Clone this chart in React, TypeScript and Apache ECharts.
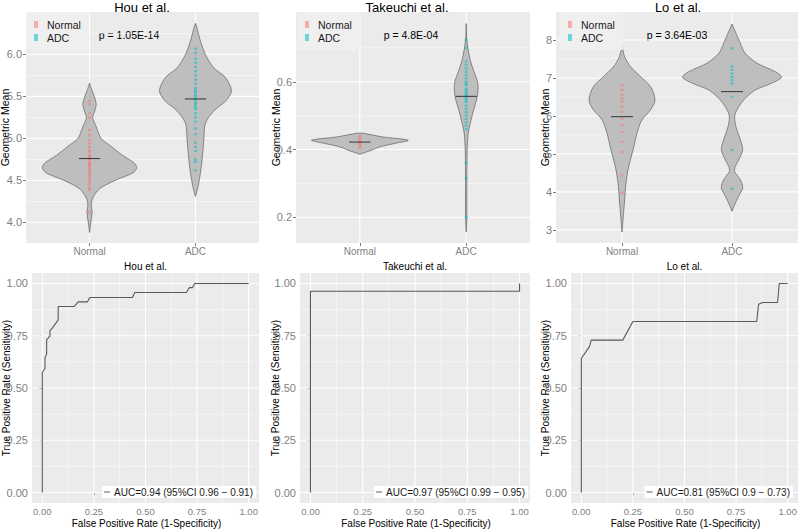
import React, { useEffect, useRef } from 'react';
import * as echarts from 'echarts';

const FONT = '"Liberation Sans", Arial, Helvetica, sans-serif';

// ---------- data ----------
const violinCategories = ['Normal', 'ADC'];
const studies = ['Hou et al.', 'Takeuchi et al.', 'Lo et al.'];
const pValues = ['p = 1.05E-14', 'p = 4.8E-04', 'p = 3.64E-03'];

// violin outlines: [value, half-width in category units]
const houNormalViolin = [[3.88, 0], [4.0, 0.012], [4.12, 0.025], [4.2, 0.016], [4.29, 0.03], [4.4, 0.094], [4.5, 0.24], [4.59, 0.41], [4.65, 0.445], [4.71, 0.42], [4.8, 0.31], [4.91, 0.2], [5.0, 0.11], [5.14, 0.063], [5.25, 0.03], [5.33, 0.05], [5.41, 0.063], [5.5, 0.045], [5.58, 0.02], [5.66, 0]];
const houAdcViolin = [[4.31, 0], [4.43, 0.025], [4.59, 0.047], [4.75, 0.063], [4.98, 0.079], [5.18, 0.094], [5.33, 0.176], [5.45, 0.29], [5.57, 0.34], [5.73, 0.28], [5.84, 0.173], [6.0, 0.094], [6.16, 0.047], [6.31, 0.016], [6.37, 0]];
const takeuchiNormalViolin = [[0.386, 0], [0.398, 0.11], [0.408, 0.19], [0.418, 0.33], [0.4275, 0.455], [0.437, 0.22], [0.447, 0.05], [0.449, 0]];
const takeuchiAdcViolin = [[0.156, 0], [0.202, 0.006], [0.3, 0.006], [0.398, 0.009], [0.448, 0.019], [0.477, 0.038], [0.516, 0.069], [0.556, 0.104], [0.595, 0.11], [0.634, 0.069], [0.664, 0.038], [0.723, 0.006], [0.772, 0]];
const loNormalViolin = [[2.94, 0], [3.35, 0.012], [3.79, 0.024], [4.23, 0.036], [4.67, 0.061], [5.1, 0.1], [5.54, 0.136], [5.89, 0.18], [6.16, 0.26], [6.42, 0.3], [6.77, 0.26], [7.04, 0.167], [7.3, 0.076], [7.56, 0.024], [7.84, 0]];
const loAdcViolin = [[3.49, 0], [3.66, 0.024], [3.89, 0.06], [4.1, 0.097], [4.32, 0.076], [4.54, 0.024], [4.67, 0.03], [4.84, 0.06], [5.11, 0.097], [5.37, 0.076], [5.72, 0.036], [5.98, 0.024], [6.16, 0.045], [6.42, 0.106], [6.68, 0.21], [6.86, 0.36], [7.02, 0.45], [7.17, 0.39], [7.39, 0.227], [7.65, 0.12], [7.91, 0.076], [8.18, 0.036], [8.42, 0]];

// sample points
const houNormalPoints = [5.45, 5.41, 5.3, 5.25, 5.1, 5.04, 4.98, 4.94, 4.9, 4.86, 4.84, 4.8, 4.78, 4.76, 4.75, 4.72, 4.7, 4.69, 4.67, 4.65, 4.63, 4.61, 4.59, 4.57, 4.54, 4.51, 4.48, 4.45, 4.41, 4.39, 4.12];
const houAdcPoints = [6.07, 6.02, 5.95, 5.9, 5.85, 5.8, 5.75, 5.7, 5.65, 5.6, 5.57, 5.55, 5.52, 5.5, 5.47, 5.45, 5.42, 5.4, 5.37, 5.35, 5.3, 5.25, 5.2, 5.12, 5.05, 4.95, 4.9, 4.85, 4.75, 4.72, 4.62];
const takeuchiNormalPoints = [0.44, 0.435, 0.43, 0.425, 0.42, 0.415, 0.41, 0.405];
const takeuchiAdcPoints = [0.723, 0.7, 0.66, 0.65, 0.64, 0.63, 0.62, 0.61, 0.6, 0.595, 0.59, 0.58, 0.575, 0.57, 0.565, 0.56, 0.555, 0.55, 0.545, 0.54, 0.53, 0.52, 0.51, 0.5, 0.49, 0.48, 0.47, 0.46, 0.36, 0.315, 0.2];
const loNormalPoints = [6.81, 6.68, 6.55, 6.46, 6.37, 6.24, 6.11, 5.93, 5.76, 5.58, 5.32, 5.05, 4.43, 3.97];
const loAdcPoints = [7.78, 7.3, 7.21, 7.12, 7.03, 6.94, 6.86, 6.5, 5.1, 4.08];

// medians [Normal, ADC]
const houMedians = [4.76, 5.47];
const takeuchiMedians = [0.422, 0.557];
const loMedians = [5.98, 6.64];

const violinYRanges = [[3.755, 6.505], [0.124, 0.806], [2.654, 8.737]];
const violinYTicks = [[4, 4.5, 5, 5.5, 6], [0.2, 0.4, 0.6], [3, 4, 5, 6, 7, 8]];
const violinYMinor = [[4.25, 4.75, 5.25, 5.75, 6.25], [0.3, 0.5, 0.7], [3.5, 4.5, 5.5, 6.5, 7.5]];
const violinYDecimals = [1, 1, 0];

// ROC curves: [FPR, TPR]
const houRoc = [[0, 0], [0, 0.574], [0.013, 0.593], [0.013, 0.646], [0.021, 0.662], [0.021, 0.73], [0.037, 0.749], [0.037, 0.773], [0.05, 0.789], [0.077, 0.826], [0.077, 0.89], [0.155, 0.89], [0.174, 0.912], [0.219, 0.912], [0.23, 0.933], [0.437, 0.933], [0.448, 0.957], [0.698, 0.957], [0.713, 0.98], [0.728, 0.98], [0.738, 1.0], [1, 1]];
const takeuchiRoc = [[0, 0], [0, 0.963], [1, 0.963], [1, 1]];
const loRoc = [[0, 0], [0, 0.641], [0.04, 0.699], [0.048, 0.729], [0.201, 0.729], [0.25, 0.818], [0.85, 0.818], [0.859, 0.901], [0.879, 0.909], [0.951, 0.909], [0.959, 1.0], [1, 1]];
const aucLabels = ['AUC=0.94 (95%CI 0.96 \u2212 0.91)', 'AUC=0.97 (95%CI 0.99 \u2212 0.95)', 'AUC=0.81 (95%CI 0.9 \u2212 0.73)'];
const rocTicks = [0, 0.25, 0.5, 0.75, 1];
const rocMinor = [0.125, 0.375, 0.625, 0.875];

// ---------- layout ----------
const violinGrids = [
  { left: 26, top: 12, width: 233, height: 231 },
  { left: 296, top: 12, width: 234, height: 231 },
  { left: 556, top: 12, width: 242, height: 231 },
];
const rocGrids = [
  { left: 32, top: 273, width: 227, height: 230 },
  { left: 300, top: 273, width: 230, height: 230 },
  { left: 571, top: 273, width: 227, height: 230 },
];
const violinLegendLeft = [26, 297, 560];
const pTextX = [129, 411, 677];
const topTitleX = [142, 407, 678];
const violinYNameX = [5, 276, 545];
const rocYNameX = [6, 275, 545];
const rocLegendRight = [544, 272, 7];

const NORMAL_COLOR = '#F8766D';
const ADC_COLOR = '#00BFC4';

function gridLineRender(params: any, api: any) {
  const cs = params.coordSys;
  const orient = api.value(0);
  const val = api.value(1);
  const major = api.value(2);
  let shape;
  if (orient === 0) {
    const y = api.coord([0.5, val])[1];
    shape = { x1: cs.x, y1: y, x2: cs.x + cs.width, y2: y };
  } else {
    const x = api.coord([val, 0.5])[0];
    shape = { x1: x, y1: cs.y, x2: x, y2: cs.y + cs.height };
  }
  return { type: 'line', shape, silent: true, style: { stroke: '#FFFFFF', lineWidth: major ? 1.1 : 0.5 } };
}

function violinSeries(gi: number, catX: number, profile: number[][]) {
  return {
    type: 'custom',
    xAxisIndex: gi,
    yAxisIndex: gi,
    z: 2,
    silent: true,
    data: [[catX, profile[0][0]]],
    renderItem: (params: any, api: any) => {
      const right = profile.map(([v, hw]) => api.coord([catX + hw, v]));
      const left = profile.slice().reverse().map(([v, hw]) => api.coord([catX - hw, v]));
      return {
        type: 'polygon',
        shape: { points: right.concat(left), smooth: 0.3 },
        style: { fill: '#BEBEBE', stroke: '#4D4D4D', lineWidth: 0.6 },
      };
    },
  };
}

function buildOption() {
  const grid: any[] = [];
  const xAxis: any[] = [];
  const yAxis: any[] = [];
  const series: any[] = [];
  const legend: any[] = [];
  const graphic: any[] = [];

  const tickStyle = { lineStyle: { color: '#555', width: 0.8 }, length: 3 };

  const violins = [
    [houNormalViolin, houAdcViolin],
    [takeuchiNormalViolin, takeuchiAdcViolin],
    [loNormalViolin, loAdcViolin],
  ];
  const points = [
    [houNormalPoints, houAdcPoints],
    [takeuchiNormalPoints, takeuchiAdcPoints],
    [loNormalPoints, loAdcPoints],
  ];
  const medians = [houMedians, takeuchiMedians, loMedians];

  violinGrids.forEach((g, i) => {
    grid.push({ ...g, show: true, backgroundColor: '#EBEBEB', borderWidth: 0 });
    xAxis.push({
      gridIndex: i, type: 'value', min: 0.4, max: 2.6,
      axisLine: { show: false }, splitLine: { show: false },
      axisTick: { show: true, customValues: [1, 2], ...tickStyle },
      axisLabel: {
        customValues: [1, 2], formatter: (v: number) => violinCategories[Math.round(v) - 1],
        fontSize: 10, color: '#7F7F7F', fontFamily: FONT, margin: 3,
      },
    });
    const dec = violinYDecimals[i];
    yAxis.push({
      gridIndex: i, type: 'value', min: violinYRanges[i][0], max: violinYRanges[i][1],
      axisLine: { show: false }, splitLine: { show: false },
      axisTick: { show: true, customValues: violinYTicks[i], ...tickStyle },
      axisLabel: {
        customValues: violinYTicks[i], formatter: (v: number) => v.toFixed(dec),
        fontSize: 11, color: '#7F7F7F', fontFamily: FONT, margin: 4,
      },
    });
    const lines: number[][] = [];
    violinYTicks[i].forEach((v) => lines.push([0, v, 1]));
    violinYMinor[i].forEach((v) => lines.push([0, v, 0]));
    [1, 2].forEach((v) => lines.push([1, v, 1]));
    series.push({ type: 'custom', xAxisIndex: i, yAxisIndex: i, z: 1, silent: true, data: lines, renderItem: gridLineRender });

    [0, 1].forEach((c) => {
      const catX = c + 1;
      series.push(violinSeries(i, catX, violins[i][c]));
      series.push({
        type: 'scatter', name: violinCategories[c], xAxisIndex: i, yAxisIndex: i, z: 3, silent: true,
        symbol: 'rect', symbolSize: [3, 2.2],
        itemStyle: { color: c === 0 ? NORMAL_COLOR : ADC_COLOR, opacity: 0.55 },
        data: points[i][c].map((v) => [catX, v]),
      });
      series.push({
        type: 'line', xAxisIndex: i, yAxisIndex: i, z: 4, silent: true, symbol: 'none',
        lineStyle: { color: '#333333', width: 1 },
        data: [[catX - 0.1, medians[i][c]], [catX + 0.1, medians[i][c]]],
      });
    });

    legend.push({
      data: [{ name: 'Normal', icon: 'rect' }, { name: 'ADC', icon: 'rect' }],
      orient: 'vertical', left: violinLegendLeft[i], top: 12,
      itemWidth: 4, itemHeight: 7, itemGap: 2,
      padding: [7, 8, 7, 8], backgroundColor: '#EFEFEF',
      selectedMode: false,
      textStyle: { fontSize: 10.5, fontFamily: FONT, color: '#1A1A1A', padding: [0, 0, 0, 4] },
    });

    graphic.push({ type: 'text', x: topTitleX[i], y: 7, silent: true, style: { text: studies[i], fontSize: 13, fontFamily: FONT, fill: '#000', align: 'center', verticalAlign: 'middle' } });
    graphic.push({ type: 'text', x: pTextX[i], y: 35, silent: true, style: { text: pValues[i], fontSize: 10.5, fontFamily: FONT, fill: '#000', align: 'center', verticalAlign: 'middle' } });
    graphic.push({ type: 'text', x: violinYNameX[i], y: g.top + g.height / 2, rotation: Math.PI / 2, silent: true, style: { text: 'Geometric Mean', fontSize: 10.5, fontFamily: FONT, fill: '#000', align: 'center', verticalAlign: 'middle' } });
  });

  const rocs = [houRoc, takeuchiRoc, loRoc];
  rocGrids.forEach((g, j) => {
    const i = j + 3;
    grid.push({ ...g, show: true, backgroundColor: '#EBEBEB', borderWidth: 0 });
    xAxis.push({
      gridIndex: i, type: 'value', min: -0.05, max: 1.05,
      axisLine: { show: false }, splitLine: { show: false },
      axisTick: { show: true, customValues: rocTicks, ...tickStyle },
      axisLabel: { customValues: rocTicks, formatter: (v: number) => v.toFixed(2), fontSize: 9.5, color: '#7F7F7F', fontFamily: FONT, margin: 3 },
    });
    yAxis.push({
      gridIndex: i, type: 'value', min: -0.05, max: 1.05,
      axisLine: { show: false }, splitLine: { show: false },
      axisTick: { show: true, customValues: rocTicks, ...tickStyle },
      axisLabel: { customValues: rocTicks, formatter: (v: number) => v.toFixed(2), fontSize: 11, color: '#7F7F7F', fontFamily: FONT, margin: 4 },
    });
    const lines: number[][] = [];
    rocTicks.forEach((v) => { lines.push([0, v, 1]); lines.push([1, v, 1]); });
    rocMinor.forEach((v) => { lines.push([0, v, 0]); lines.push([1, v, 0]); });
    series.push({ type: 'custom', xAxisIndex: i, yAxisIndex: i, z: 1, silent: true, data: lines, renderItem: gridLineRender });
    series.push({
      type: 'line', name: aucLabels[j], xAxisIndex: i, yAxisIndex: i, z: 3, silent: true,
      symbol: 'none', lineStyle: { color: '#5A5A5A', width: 1.1 }, itemStyle: { color: '#5A5A5A' },
      data: rocs[j],
    });
    legend.push({
      data: [{ name: aucLabels[j], icon: 'rect', itemStyle: { color: '#5A5A5A' } }], right: rocLegendRight[j], top: 486,
      itemWidth: 6, itemHeight: 1, padding: [1, 3, 1, 2], backgroundColor: '#FFFFFF',
      selectedMode: false,
      textStyle: { fontSize: 10, fontFamily: FONT, color: '#1A1A1A', padding: [0, 0, 0, -1] },
    });
    graphic.push({ type: 'text', x: g.left + g.width / 2, y: 266, silent: true, style: { text: studies[j], fontSize: 10, fontFamily: FONT, fill: '#000', align: 'center', verticalAlign: 'middle' } });
    graphic.push({ type: 'text', x: g.left + g.width / 2 + 1, y: 523, silent: true, style: { text: 'False Positive Rate (1-Specificity)', fontSize: 10, fontFamily: FONT, fill: '#000', align: 'center', verticalAlign: 'middle' } });
    graphic.push({ type: 'text', x: rocYNameX[j], y: g.top + g.height / 2, rotation: Math.PI / 2, silent: true, style: { text: 'True Positive Rate (Sensitivity)', fontSize: 10, fontFamily: FONT, fill: '#000', align: 'center', verticalAlign: 'middle' } });
  });

  return {
    animation: false,
    backgroundColor: '#FFFFFF',
    textStyle: { fontFamily: FONT },
    grid, xAxis, yAxis, series, legend, graphic,
  };
}

export default function App() {
  const ref = useRef<HTMLDivElement>(null);
  useEffect(() => {
    document.body.style.margin = '0';
    if (!ref.current) return;
    const chart = echarts.init(ref.current, undefined, { renderer: 'svg' });
    chart.setOption(buildOption() as any);
    return () => chart.dispose();
  }, []);
  return <div ref={ref} style={{ width: 800, height: 530 }} />;
}
